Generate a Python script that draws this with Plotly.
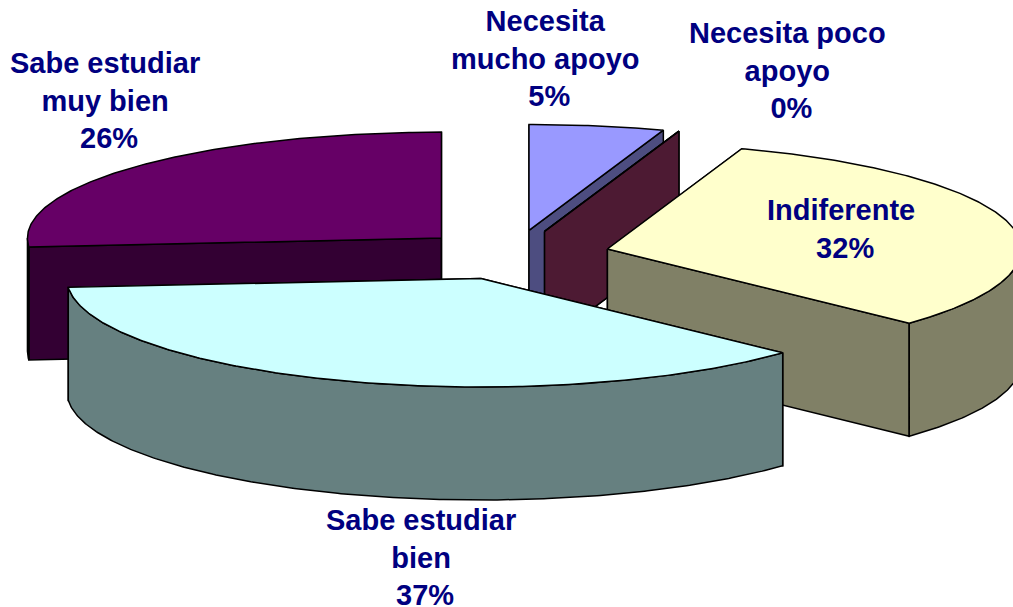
import numpy as np
import plotly.graph_objects as go

labels = ["Necesita mucho apoyo", "Necesita poco apoyo", "Indiferente", "Sabe estudiar bien", "Sabe estudiar muy bien"]
values = [5.26, 0, 31.74, 36.7, 26.3]
top_colors = ["#9999FF", "#993366", "#FFFFCC", "#CCFFFF", "#660066"]
wall_colors = ["#4D4D80", "#4D1A33", "#808066", "#668080", "#330033"]
draw_order = [4, 0, 1, 2, 3]

W, H = 1013, 607
CX, CY = 513, 255      # pie centre on the canvas
RX = 414               # projected horizontal radius
RY_BACK, RY_FRONT = 106, 108.5   # slight perspective: the near half is a little deeper
DEPTH = 113
EXPLODE = 0.235
TEXT = "#000080"


def rim(a0, a1, ox, oy, dz=0):
    n = max(2, int(abs(a1 - a0) * 2) + 1)
    t = np.radians(np.linspace(a0, a1, n))
    c = np.cos(t)
    return ox + RX * np.sin(t), oy - np.where(c >= 0, RY_BACK, RY_FRONT) * c + dz


def poly(x, y, fill):
    return go.Scatter(x=list(x) + [x[0]], y=list(y) + [y[0]], mode="lines", fill="toself",
                      fillcolor=fill, line=dict(color="black", width=1.5),
                      hoverinfo="skip", showlegend=False)


edges = np.concatenate([[0], np.cumsum(values)]) / np.sum(values) * 360
fig = go.Figure()
for i in draw_order:
    a0, a1 = edges[i], edges[i + 1]
    mid = np.radians((a0 + a1) / 2)
    ox = CX + EXPLODE * RX * np.sin(mid)
    oy = CY - EXPLODE * RY_BACK * np.cos(mid)
    # radial cut walls
    for a in (a0, a1):
        xr, yr = rim(a, a, ox, oy)
        fig.add_trace(poly([ox, xr[0], xr[0], ox], [oy, yr[0], yr[0] + DEPTH, oy + DEPTH], wall_colors[i]))
    # outer front wall
    lo, hi = max(a0, 90), min(a1, 270)
    if hi > lo:
        xt, yt = rim(lo, hi, ox, oy)
        xb, yb = rim(hi, lo, ox, oy, DEPTH)
        fig.add_trace(poly(np.r_[xt, xb], np.r_[yt, yb], wall_colors[i]))
    # top face
    xt, yt = rim(a0, a1, ox, oy)
    fig.add_trace(poly(np.r_[ox, xt], np.r_[oy, yt], top_colors[i]))

label_text = ["Necesita<br>mucho apoyo<br>&nbsp;5%", "Necesita poco<br>apoyo<br>&nbsp;0%", "Indiferente<br>&nbsp;32%",
              "Sabe estudiar<br>bien<br>&nbsp;37%", "Sabe estudiar<br>muy bien<br>&nbsp;26%"]
label_x = [545, 787, 841, 421, 105]
label_y = [58, 70, 229, 557, 100]
for s, x, y in zip(label_text, label_x, label_y):
    fig.add_annotation(x=x, y=y, text=f"<b>{s}</b>", showarrow=False, xanchor="center", yanchor="middle",
                       align="center", font=dict(family="Liberation Sans", size=29, color=TEXT))

fig.update_layout(width=W, height=H, margin=dict(l=0, r=0, t=0, b=0), paper_bgcolor="white", plot_bgcolor="white",
                  xaxis=dict(range=[0, W], visible=False, fixedrange=True),
                  yaxis=dict(range=[H, 0], visible=False, fixedrange=True))
fig.write_html("out.html", post_script="document.body.style.margin='0';document.body.style.overflow='hidden';",
               config={"displayModeBar": False})
